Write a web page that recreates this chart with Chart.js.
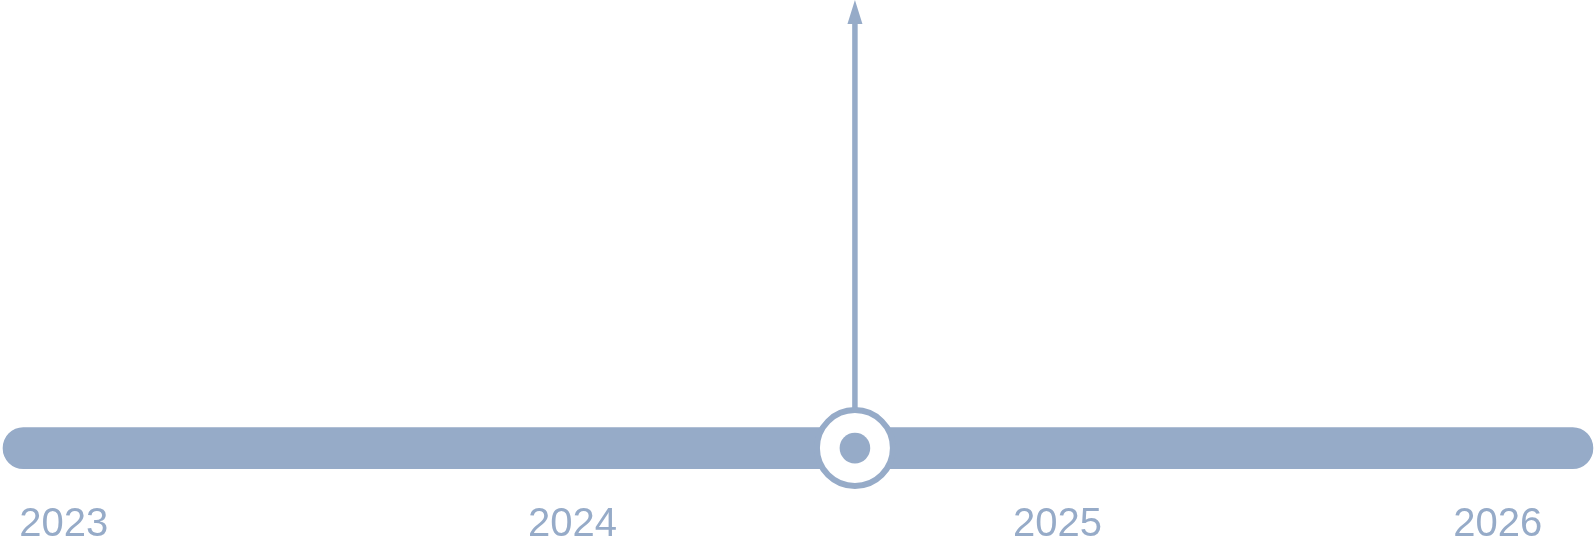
<!DOCTYPE html>
<html>
<head>
<meta charset="utf-8">
<script src="https://cdn.jsdelivr.net/npm/chart.js@4/dist/chart.umd.min.js"></script>
<style>
html,body{margin:0;padding:0;background:#fff;}
#wrap{width:1595px;height:549px;}
</style>
</head>
<body>
<div id="wrap"><canvas id="c"></canvas></div>
<script>
// timeline positions in percent of the track
const yearLabels = ['2023', '2024', '2025', '2026'];
const yearPositions = [4.0, 35.9, 66.3, 93.9];
const trackRange = [0.19, 99.87];
const markerPosition = 53.6;
const stemTop = 9.5;
const arrowTip = 10;

const COLOR = '#96abc8';

const arrowPlugin = {
  id: 'arrowHead',
  afterDatasetsDraw(chart) {
    const {ctx, scales} = chart;
    const x = scales.x.getPixelForValue(markerPosition);
    const y = scales.y.getPixelForValue(arrowTip);
    ctx.save();
    ctx.fillStyle = COLOR;
    ctx.beginPath();
    ctx.moveTo(x, y);
    ctx.lineTo(x + 7.5, y + 24);
    ctx.lineTo(x - 7.5, y + 24);
    ctx.closePath();
    ctx.fill();
    ctx.restore();
  }
};

new Chart(document.getElementById('c'), {
  data: {
    datasets: [
      {
        type: 'scatter',
        order: 0,
        data: [{x: markerPosition, y: 0}],
        pointRadius: 15.3,
        pointBackgroundColor: COLOR,
        pointBorderWidth: 0,
        pointHoverRadius: 15.3,
        clip: false
      },
      {
        type: 'scatter',
        order: 1,
        data: [{x: markerPosition, y: 0}],
        pointRadius: 38,
        pointBackgroundColor: '#ffffff',
        pointBorderColor: COLOR,
        pointBorderWidth: 6,
        pointHoverRadius: 38,
        clip: false
      },
      {
        type: 'line',
        order: 2,
        data: [{x: markerPosition, y: 0}, {x: markerPosition, y: stemTop}],
        borderColor: COLOR,
        borderWidth: 5.5,
        pointRadius: 0,
        fill: false,
        clip: false
      },
      {
        type: 'bar',
        order: 3,
        indexAxis: 'y',
        data: [{x: trackRange, y: 0}],
        backgroundColor: COLOR,
        borderWidth: 0,
        borderRadius: 21,
        borderSkipped: false,
        barThickness: 41,
        clip: false
      }
    ]
  },
  options: {
    responsive: true,
    maintainAspectRatio: false,
    animation: false,
    events: [],
    layout: {padding: 0, autoPadding: false},
    plugins: {legend: {display: false}, tooltip: {enabled: false}},
    scales: {
      x: {
        type: 'linear',
        min: 0,
        max: 100,
        offset: false,
        grid: {display: false, drawTicks: false},
        border: {display: false},
        afterBuildTicks(axis) {
          axis.ticks = yearPositions.map(v => ({value: v}));
        },
        ticks: {
          padding: 0,
          autoSkip: false,
          maxRotation: 0,
          color: COLOR,
          font: {family: '"Liberation Sans", Arial, sans-serif', size: 40},
          callback(value) {
            const i = yearPositions.indexOf(value);
            return i >= 0 ? yearLabels[i] : '';
          }
        }
      },
      y: {
        type: 'linear',
        display: false,
        offset: false,
        min: -1.18,
        max: 10
      }
    }
  },
  plugins: [arrowPlugin]
});
</script>
</body>
</html>
